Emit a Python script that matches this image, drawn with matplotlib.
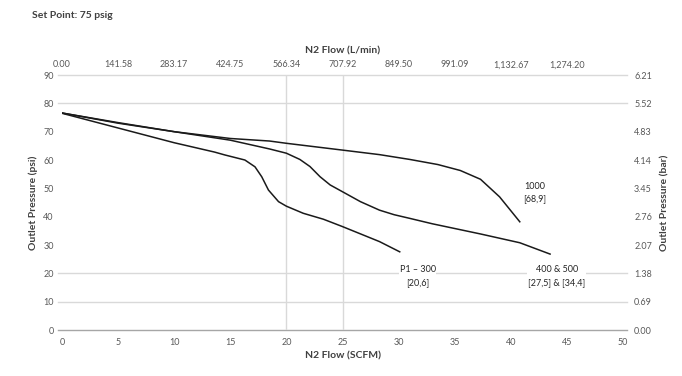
import matplotlib
matplotlib.use("Agg")
import matplotlib.pyplot as plt

plt.rcParams["font.family"] = ["Lato", "DejaVu Sans"]

# data (psig vs SCFM)
flow_1000 = [0, 5, 10, 15, 18.5, 20, 25, 28.3, 31, 33.5, 35.5, 37.3, 39, 40.8]
psi_1000 = [76.6, 73.0, 70.0, 67.6, 66.7, 65.9, 63.5, 61.9, 60.2, 58.4, 56.3, 53.2, 47.0, 38.2]

flow_400 = [0, 5, 10, 15, 18.5, 20, 21.2, 22.1, 23, 23.9, 25, 26.6, 28.3,
            29.6, 31, 33, 37.3, 40.8, 43.5]
psi_400 = [76.6, 73.2, 70.0, 67.0, 63.9, 62.4, 60.2, 57.7, 54.1, 51.2, 48.8, 45.3, 42.3,
           40.7, 39.4, 37.5, 33.9, 30.8, 26.8]

flow_p1 = [0, 5, 10, 13.6, 14.5, 16.3, 17.2, 17.8, 18.4, 19.3, 20, 21.5, 23.3,
           25, 28.3, 30.1]
psi_p1 = [76.5, 71.3, 66.1, 62.8, 61.8, 60.0, 57.6, 54.1, 49.4, 45.3, 43.7, 41.2, 39.1,
          36.5, 31.2, 27.6]

x_ticks = [0, 5, 10, 15, 20, 25, 30, 35, 40, 45, 50]
y_ticks = [0, 10, 20, 30, 40, 50, 60, 70, 80, 90]
lmin_ticks = [0, 5, 10, 15, 20, 25, 30, 35, 40, 45]
lmin_labels = ["0.00", "141.58", "283.17", "424.75", "566.34", "707.92",
               "849.50", "991.09", "1,132.67", "1,274.20"]
bar_labels = ["0.00", "0.69", "1.38", "2.07", "2.76", "3.45", "4.14", "4.83", "5.52", "6.21"]
grid_y = [10, 20, 80, 90]
ref_x = [20, 25]

INK = "#404040"
GRID = "#d9d9d9"

fig = plt.figure(figsize=(6.82, 3.76), dpi=100, facecolor="white")
ax = fig.add_axes([0.0909, 0.1223, 0.8226, 0.6782])

# gridlines run a little past the plot edge, like the tick stubs in the original
for y in grid_y:
    ax.plot([-0.4, 50.4], [y, y], color=GRID, lw=1.0, zorder=0, clip_on=False)
ax.plot([-0.4, 50.4], [0, 0], color="#a6a6a6", lw=1.0, zorder=0, clip_on=False)
for x in ref_x:
    ax.axvline(x, color=GRID, lw=1.0, zorder=0)

for fx, py in [(flow_1000, psi_1000), (flow_400, psi_400), (flow_p1, psi_p1)]:
    ax.plot(fx, py, color="#1a1a1a", lw=1.1, zorder=3, solid_joinstyle="round")

ax.set_xlim(0, 50)
ax.set_ylim(0, 90)
ax.set_xticks(x_ticks)
ax.set_yticks(y_ticks)
for s in ax.spines.values():
    s.set_visible(False)
ax.tick_params(axis="both", length=0, labelsize=6.5, colors="#595959", pad=6)
ax.set_xlabel("N2 Flow (SCFM)", fontsize=7.5, fontweight="bold", color=INK, labelpad=3)
ax.set_ylabel("Outlet Pressure (psi)", fontsize=7.5, fontweight="bold", color=INK, labelpad=4)

ax_top = ax.twiny()
ax_top.set_xlim(0, 50)
ax_top.set_xticks(lmin_ticks)
ax_top.set_xticklabels(lmin_labels)
ax_top.tick_params(axis="x", length=0, labelsize=6.5, colors="#595959", pad=4)
ax_top.set_xlabel("N2 Flow (L/min)", fontsize=7.5, fontweight="bold", color=INK, labelpad=5)
for s in ax_top.spines.values():
    s.set_visible(False)

ax_r = ax.twinx()
ax_r.set_ylim(0, 90)
ax_r.set_yticks(y_ticks)
ax_r.set_yticklabels(bar_labels)
ax_r.tick_params(axis="y", length=0, labelsize=6.5, colors="#595959", pad=8)
ax_r.set_ylabel("Outlet Pressure (bar)", fontsize=7.5, fontweight="bold", color=INK, labelpad=6)
for s in ax_r.spines.values():
    s.set_visible(False)

lbl = dict(fontsize=6.5, color="#262626", ha="center", va="center",
           linespacing=1.5, zorder=5,
           bbox=dict(facecolor="white", edgecolor="none", pad=0.5))
ax.text(42.1, 48.5, "1000\n[68,9]", **lbl)
ax.text(31.7, 19.0, "P1 \u2013 300\n[20,6]", **lbl)
ax.text(44.1, 19.0, "400 & 500\n[27,5] & [34,4]", **lbl)

fig.text(0.047, 0.96, "Set Point: 75 psig", fontsize=7.5, fontweight="bold",
         color=INK, ha="left", va="center")

fig.savefig("out.png", dpi=100, facecolor="white")
